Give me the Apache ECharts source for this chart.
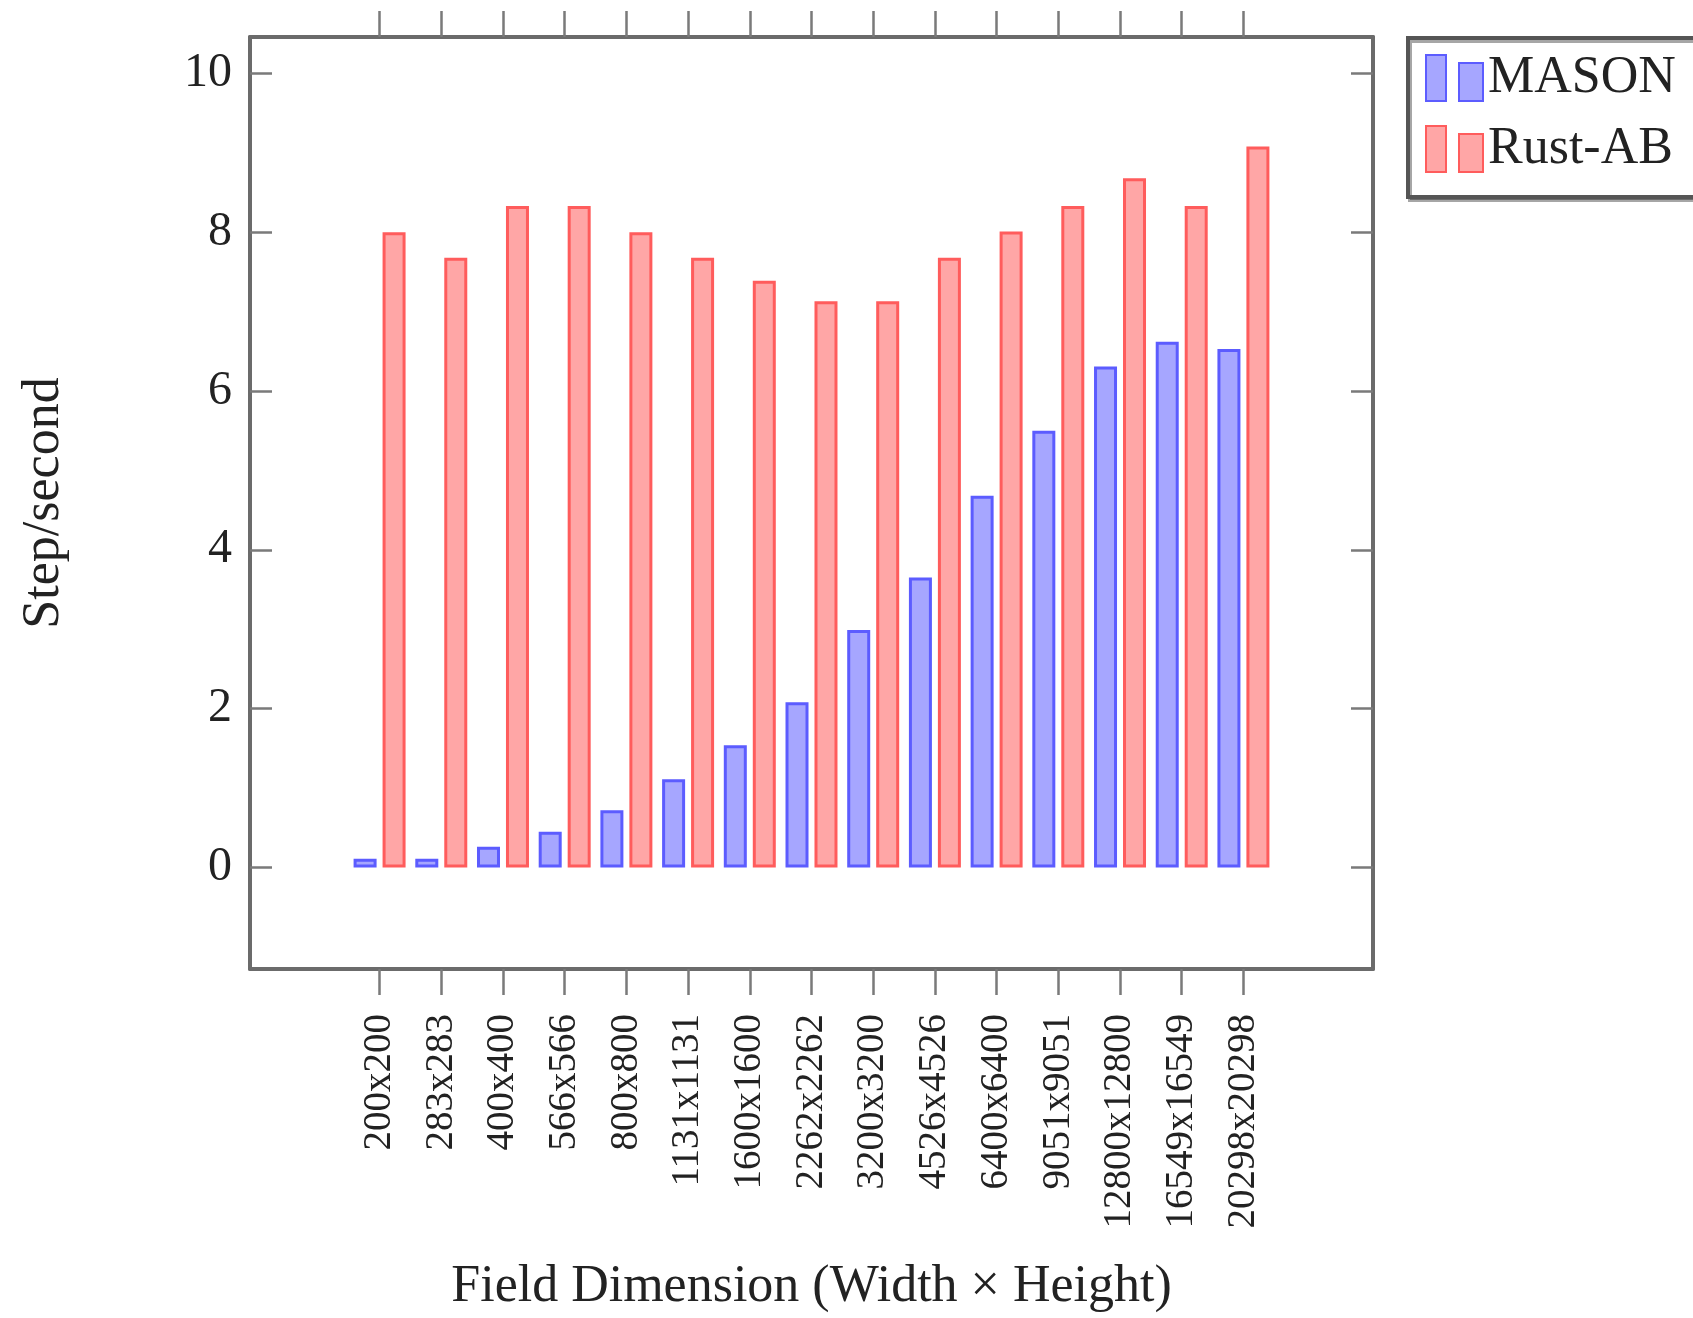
<!DOCTYPE html>
<html>
<head>
<meta charset="utf-8">
<script src="https://cdn.jsdelivr.net/npm/echarts@6/dist/echarts.min.js"></script>
<style>
html,body{margin:0;padding:0;background:#fff;}
#chart{width:1693px;height:1318px;}
</style>
</head>
<body>
<div id="chart"></div>
<script>
const categories = ['200x200','283x283','400x400','566x566','800x800','1131x1131','1600x1600','2262x2262','3200x3200','4526x4526','6400x6400','9051x9051','12800x12800','16549x16549','20298x20298'];
const masonValues = [0.11, 0.11, 0.26, 0.45, 0.72, 1.11, 1.54, 2.08, 2.99, 3.65, 4.68, 5.50, 6.31, 6.62, 6.53];
const rustValues = [8.00, 7.68, 8.33, 8.33, 8.00, 7.68, 7.39, 7.13, 7.13, 7.68, 8.01, 8.33, 8.68, 8.33, 9.08];
const yTickValues = [0, 2, 4, 6, 8, 10];
const seriesNames = ['MASON', 'Rust-AB'];

const xTickValues = categories.map((c, i) => i);
const FONT = '"Liberation Serif", "DejaVu Serif", serif';
const AXIS_COLOR = '#6b6b6b';
const TICK_COLOR = '#7a7a7a';

const chart = echarts.init(document.getElementById('chart'), null, {renderer: 'canvas'});

const xCommon = {
  type: 'value', min: -2.1, max: 16.1,
  splitLine: {show: false},
  axisLine: {show: true, onZero: false, lineStyle: {color: AXIS_COLOR, width: 4}},
  axisTick: {show: true, inside: false, length: 26, customValues: xTickValues, lineStyle: {color: TICK_COLOR, width: 2.5}}
};
const yCommon = {
  type: 'value', min: -1.28, max: 10.46,
  splitLine: {show: false},
  axisLine: {show: true, onZero: false, lineStyle: {color: AXIS_COLOR, width: 4}},
  axisTick: {show: true, inside: true, length: 22, customValues: yTickValues, lineStyle: {color: TICK_COLOR, width: 2.5}}
};

const iconPath = 'path://M0,0 L20,0 L20,46 L0,46 Z M33,8 L57,8 L57,46 L33,46 Z';

chart.setOption({
  animation: false,
  backgroundColor: '#ffffff',
  grid: {left: 250, right: 1693 - 1373, top: 37, bottom: 1318 - 970, containLabel: false},
  legend: {
    left: 1408, top: 38,
    orient: 'vertical',
    icon: iconPath,
    itemWidth: 57, itemHeight: 46,
    itemGap: 19,
    itemTextGap: 10,
    padding: [14, 80, 22, 17],
    backgroundColor: '#ffffff',
    borderColor: '#555555', borderWidth: 4,
    shadowColor: 'rgba(0,0,0,0.35)', shadowBlur: 0, shadowOffsetX: 2, shadowOffsetY: 3,
    textStyle: {fontFamily: FONT, fontSize: 52, color: '#222', lineHeight: 46},
    data: seriesNames
  },
  xAxis: [
    Object.assign({}, xCommon, {
      position: 'bottom',
      name: 'Field Dimension (Width × Height)',
      nameLocation: 'middle', nameGap: 292,
      nameTextStyle: {fontFamily: FONT, fontSize: 52, color: '#222'},
      axisLabel: {show: true, rotate: 90, margin: 45, customValues: xTickValues,
        fontFamily: FONT, fontSize: 39, color: '#222',
        formatter: v => categories[Math.round(v)] || ''}
    }),
    Object.assign({}, xCommon, {position: 'top', axisLabel: {show: false}})
  ],
  yAxis: [
    Object.assign({}, yCommon, {
      position: 'left',
      name: 'Step/second',
      nameLocation: 'middle', nameGap: 180,
      nameTextStyle: {fontFamily: FONT, fontSize: 52, color: '#222'},
      axisLabel: {show: true, margin: 18, customValues: yTickValues,
        fontFamily: FONT, fontSize: 48, color: '#222'}
    }),
    Object.assign({}, yCommon, {position: 'right', axisLabel: {show: false}})
  ],
  series: [
    {
      name: seriesNames[0], type: 'bar',
      xAxisIndex: 0, yAxisIndex: 0,
      barWidth: 23, barGap: '26%',
      itemStyle: {color: '#a6a6ff', borderColor: '#5c5cff', borderWidth: 3},
      data: masonValues.map((v, i) => [i, v])
    },
    {
      name: seriesNames[1], type: 'bar',
      xAxisIndex: 0, yAxisIndex: 0,
      barWidth: 23, barGap: '26%',
      itemStyle: {color: '#ffa6a6', borderColor: '#ff5c5c', borderWidth: 3},
      data: rustValues.map((v, i) => [i, v])
    }
  ]
});
</script>
</body>
</html>
